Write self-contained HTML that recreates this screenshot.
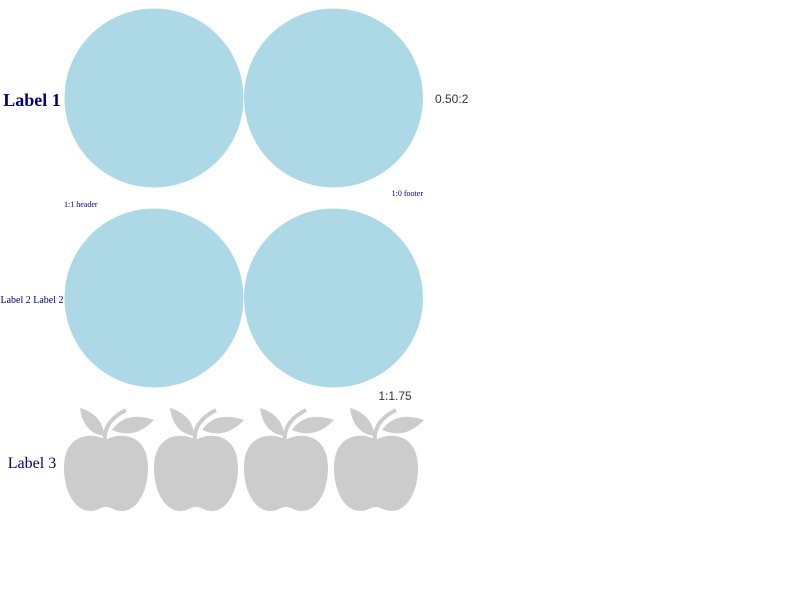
<!DOCTYPE html>
<html><head><meta charset="utf-8"><style>body{margin:0;background:#fff}svg{display:block}</style></head>
<body>
<svg id="chart" width="800" height="600" xmlns="http://www.w3.org/2000/svg">
<text x="32" y="106" text-anchor="middle" font-family="Liberation Serif, serif" font-weight="bold" font-size="18" fill="#000080">Label 1</text>
<text x="435" y="103" font-family="Liberation Sans, sans-serif" font-size="12" fill="#333">0.50:2</text>
<text x="423" y="196" text-anchor="end" font-family="Liberation Serif, serif" font-size="8" fill="#000080">1:0 footer</text>
<text x="64" y="207" font-family="Liberation Serif, serif" font-size="8" fill="#000080">1:1 header</text>
<text x="32" y="303" text-anchor="middle" font-family="Liberation Serif, serif" font-size="10" fill="#000080">Label 2 Label 2</text>
<text x="395" y="400" text-anchor="middle" font-family="Liberation Sans, sans-serif" font-size="12" fill="#333">1:1.75</text>
<text x="32" y="468" text-anchor="middle" font-family="Liberation Serif, serif" font-size="16" fill="#000080">Label 3</text>
<g id="marks"></g>
</svg>
<script>
const rowNames = ['row-1','row-2','row-3'];
const rowCounts = [2, 2, 4];
const rowShapes = ['circle','circle','apple'];
const NS='http://www.w3.org/2000/svg';
const g=document.getElementById('marks');
const rowTop=[9,209,408];
rowNames.forEach((r,i)=>{
  for(let k=0;k<rowCounts[i];k++){
    if(rowShapes[i]==='circle'){
      const c=document.createElementNS(NS,'circle');
      c.setAttribute('cx',154+k*179.5);c.setAttribute('cy',rowTop[i]+89);c.setAttribute('r',89.5);
      c.setAttribute('fill','#add8e6');
      
      
      g.appendChild(c);
    } else {
      const a=document.createElementNS(NS,'g');
      a.setAttribute('transform','translate('+(64+k*90)+','+rowTop[i]+')');
      
      
      a.innerHTML='<path fill="#cccccc" d="M42,32 C30,24 0,24 0,60 C0,85 12,103 26,103 C34,103 36,99 42,99 C48,99 50,103 58,103 C72,103 84,85 84,60 C84,24 54,24 42,32 Z"/>'+
      '<path fill="#cccccc" d="M16,0 C30,4 40,14 40,28 C26,26 18,16 16,0 Z"/>'+
      '<path fill="none" stroke="#cccccc" stroke-width="4" d="M41,34 C39,18 50,8 62,2"/>'+
      '<path fill="#cccccc" d="M48,22 C58,8 72,6 90,12 C80,22 68,30 48,22 Z"/>';
      g.appendChild(a);
    }
  }
});
</script>
</body></html>
